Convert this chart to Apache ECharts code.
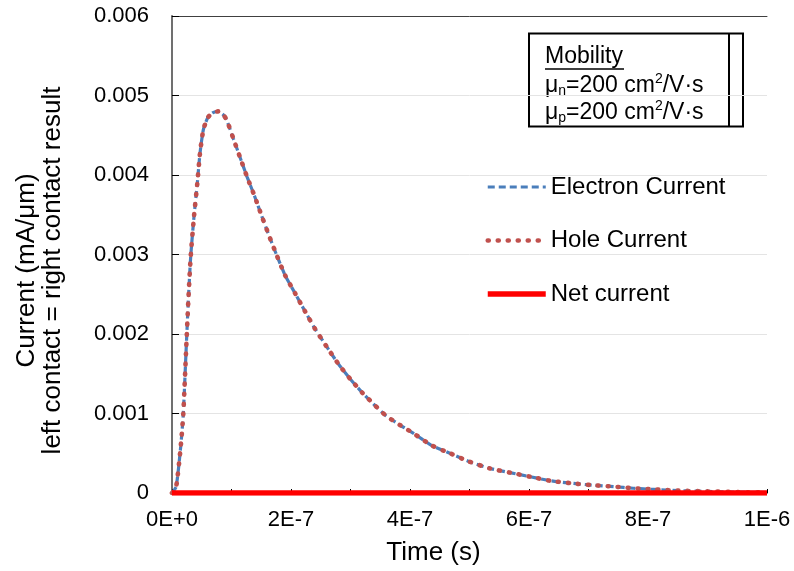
<!DOCTYPE html>
<html>
<head>
<meta charset="utf-8">
<script src="https://cdn.jsdelivr.net/npm/echarts@6/dist/echarts.min.js"></script>
<style>
  html, body { margin: 0; padding: 0; background: #fff; }
  #chart { width: 794px; height: 571px; }
</style>
</head>
<body>
<div id="chart"></div>
<script>
// Transient current after the pulse, both contacts give the same result
const timeValues = [
  0, 0.7e-8, 1.46e-8, 1.9e-8, 2.35e-8, 2.75e-8, 3.14e-8, 3.7e-8, 4.26e-8, 4.7e-8,
  5.27e-8, 6.0e-8, 6.8e-8, 7.8e-8, 8.6e-8, 9.2e-8, 1.03e-7, 1.14e-7, 1.26e-7, 1.39e-7,
  1.51e-7, 1.64e-7, 1.76e-7, 1.90e-7, 2.07e-7, 2.24e-7, 2.40e-7, 2.60e-7, 2.80e-7, 3.00e-7,
  3.20e-7, 3.40e-7, 3.60e-7, 3.83e-7, 4.06e-7, 4.36e-7, 4.67e-7, 5.00e-7, 5.34e-7, 5.68e-7,
  6.02e-7, 6.35e-7, 6.72e-7, 7.05e-7, 7.42e-7, 7.75e-7, 8.1e-7, 8.5e-7, 9.0e-7, 9.5e-7, 1.0e-6
];
// Electron current (mA/μm)
const electronCurrent = [
  0, 0.00008, 0.00058, 0.00100, 0.00176, 0.00243, 0.00297, 0.00348, 0.00390, 0.00427,
  0.00457, 0.00472, 0.00478, 0.00480, 0.00476, 0.00469, 0.00446, 0.00423, 0.00398, 0.00373,
  0.00348, 0.00322, 0.00299, 0.00274, 0.00251, 0.00228, 0.00207, 0.00184, 0.00162, 0.00143,
  0.00126, 0.00111, 0.00097, 0.000855, 0.00075, 0.00060, 0.00050, 0.000394, 0.00031, 0.000256,
  0.000205, 0.000155, 0.000122, 0.00010, 0.00008, 0.00006, 0.000045, 0.00003, 0.00002, 0.000012, 0.000006
];
// Hole current (mA/μm)
const holeCurrent = [
  0, 0.00008, 0.00058, 0.00100, 0.00176, 0.00243, 0.00297, 0.00348, 0.00390, 0.00427,
  0.00457, 0.00472, 0.00478, 0.00480, 0.00476, 0.00469, 0.00446, 0.00423, 0.00398, 0.00373,
  0.00348, 0.00322, 0.00299, 0.00274, 0.00251, 0.00228, 0.00207, 0.00184, 0.00162, 0.00143,
  0.00126, 0.00111, 0.00097, 0.000855, 0.00075, 0.00060, 0.00050, 0.000394, 0.00031, 0.000256,
  0.000205, 0.000155, 0.000122, 0.00010, 0.00008, 0.00006, 0.000045, 0.00003, 0.00002, 0.000012, 0.000006
];
// Net current (mA/μm)
const netTime = [0, 2e-7, 4e-7, 6e-7, 8e-7, 1e-6];
const netCurrent = [0, 0, 0, 0, 0, 0];

const seriesNames = ['Electron Current', 'Hole Current', 'Net current'];
const yTickLabels = ['0', '0.001', '0.002', '0.003', '0.004', '0.005', '0.006'];
const xTickLabels = ['0E+0', '2E-7', '4E-7', '6E-7', '8E-7', '1E-6'];

const FONT = '"Liberation Sans", Arial, sans-serif';

const electronLine = { color: '#4a7ebb', width: 3.2, type: [7, 4] };
const holeLine = { color: '#c0504d', width: 4.6, type: [1, 9], cap: 'round', join: 'round' };
const netLine = { color: '#ff0000', width: 5.5 };

function pairs(xs, ys) {
  return xs.map((x, i) => [x, ys[i]]);
}

const chart = echarts.init(document.getElementById('chart'), null, { renderer: 'canvas' });

const muRich = {
  t: { fontSize: 23, fontFamily: FONT, lineHeight: 26, verticalAlign: 'middle' },
  sub: { fontSize: 14, fontFamily: FONT, lineHeight: 26, verticalAlign: 'bottom' },
  sup: { fontSize: 14, fontFamily: FONT, lineHeight: 26, verticalAlign: 'top' }
};

chart.setOption({
  animation: false,
  backgroundColor: '#ffffff',
  textStyle: { fontFamily: FONT },
  grid: { left: 172, right: 27, top: 16, bottom: 78, containLabel: false },
  legend: {
    orient: 'vertical',
    left: 485,
    top: 175,
    padding: 0,
    itemWidth: 58,
    itemHeight: 24,
    itemGap: 29.5,
    itemStyle: { opacity: 0 },
    textStyle: { fontSize: 24, color: '#000', fontFamily: FONT },
    data: [
      { name: seriesNames[0], lineStyle: electronLine },
      { name: seriesNames[1], lineStyle: holeLine },
      { name: seriesNames[2], lineStyle: netLine }
    ]
  },
  xAxis: [{
    type: 'value',
    min: 0,
    max: 1e-6,
    interval: 1e-7,
    name: 'Time (s)',
    nameLocation: 'middle',
    nameGap: 47,
    nameTextStyle: { fontSize: 26, color: '#000', fontFamily: FONT, padding: [0, 72, 0, 0] },
    axisLine: { show: true, onZero: false, lineStyle: { color: '#000', width: 1.5 } },
    axisTick: { show: true, inside: true, length: 4, lineStyle: { color: '#000' } },
    axisLabel: {
      fontSize: 22, color: '#000', margin: 16, fontFamily: FONT,
      showMinLabel: true, showMaxLabel: true,
      formatter: function (v) {
        const k = Math.round(v / 1e-7);
        return k % 2 === 0 ? xTickLabels[k / 2] : '';
      }
    },
    splitLine: { show: false }
  }, {
    type: 'value', position: 'top', min: 0, max: 1e-6,
    axisLine: { show: true, onZero: false, lineStyle: { color: '#404040', width: 1 } },
    axisTick: { show: false }, axisLabel: { show: false }, splitLine: { show: false }
  }],
  yAxis: [{
    type: 'value',
    min: 0,
    max: 0.006,
    interval: 0.001,
    name: 'Current (mA/μm)\nleft contact = right contact result',
    nameLocation: 'middle',
    nameGap: 106,
    nameTextStyle: { fontSize: 26, lineHeight: 26, color: '#000', fontFamily: FONT, padding: [0, 32, 0, 0] },
    axisLine: { show: true, lineStyle: { color: '#000', width: 1.5 } },
    axisTick: { show: true, inside: true, length: 7, lineStyle: { color: '#000' } },
    axisLabel: {
      fontSize: 22, color: '#000', margin: 23, fontFamily: FONT,
      formatter: function (v) { return yTickLabels[Math.round(v / 0.001)]; }
    },
    splitLine: { show: true, lineStyle: { color: '#e4e4e4', width: 1 } }
  }, {
    type: 'value', position: 'right', min: 0, max: 0.006,
    axisLine: { show: true, lineStyle: { color: '#808080', width: 1.5 } },
    axisTick: { show: false }, axisLabel: { show: false }, splitLine: { show: false }
  }],
  series: [{
    name: seriesNames[0],
    type: 'line',
    data: pairs(timeValues, electronCurrent),
    showSymbol: false,
    symbol: 'none',
    smooth: 0.2,
    lineStyle: electronLine,
    itemStyle: { color: electronLine.color },
    z: 2
  }, {
    name: seriesNames[1],
    type: 'line',
    data: pairs(timeValues, holeCurrent),
    showSymbol: false,
    symbol: 'none',
    smooth: 0.2,
    lineStyle: holeLine,
    itemStyle: { color: holeLine.color },
    z: 3
  }, {
    name: seriesNames[2],
    type: 'line',
    data: pairs(netTime, netCurrent),
    showSymbol: false,
    symbol: 'none',
    lineStyle: netLine,
    itemStyle: { color: netLine.color },
    z: 4
  }],
  graphic: [{
    type: 'group',
    left: 528,
    top: 31,
    children: [{
      type: 'rect',
      shape: { x: 0, y: 0, width: 214, height: 93 },
      style: { fill: '#fff', stroke: '#000', lineWidth: 2 }
    }, {
      type: 'line',
      shape: { x1: 200, y1: 0, x2: 200, y2: 93 },
      style: { stroke: '#000', lineWidth: 2 }
    }, {
      type: 'text',
      x: 16, y: 23,
      style: { text: 'Mobility', font: '23px ' + FONT, fill: '#000', verticalAlign: 'middle' }
    }, {
      type: 'line',
      shape: { x1: 16, y1: 35.5, x2: 95, y2: 35.5 },
      style: { stroke: '#000', lineWidth: 1.5 }
    }, {
      type: 'text',
      x: 16, y: 52,
      style: {
        text: '{t|μ}{sub|n}{t|=200 cm}{sup|2}{t|/V·s}',
        verticalAlign: 'middle',
        fill: '#000',
        rich: muRich
      }
    }, {
      type: 'text',
      x: 16, y: 79,
      style: {
        text: '{t|μ}{sub|p}{t|=200 cm}{sup|2}{t|/V·s}',
        verticalAlign: 'middle',
        fill: '#000',
        rich: muRich
      }
    }]
  }]
});
</script>
</body>
</html>
